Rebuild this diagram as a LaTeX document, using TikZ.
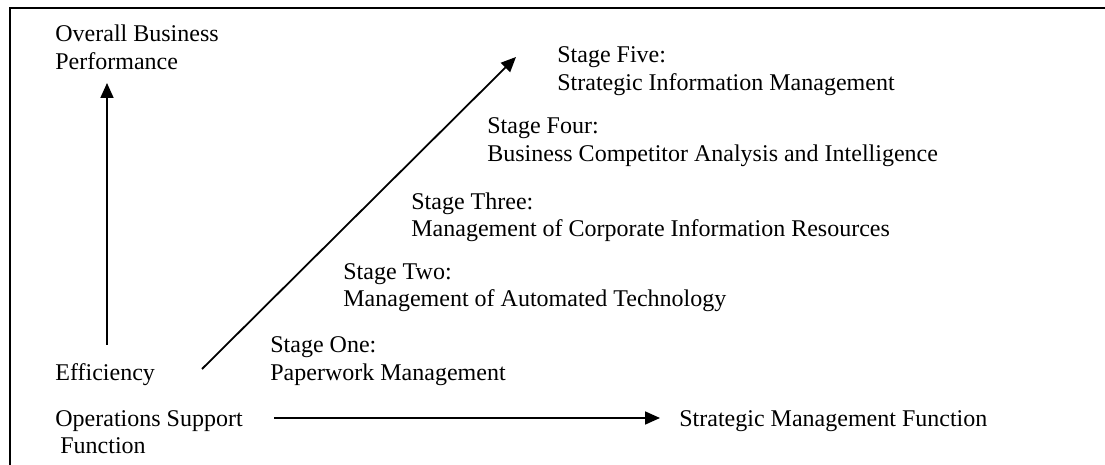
\documentclass[tikz,border=0pt]{standalone}
\usepackage{fontspec}
\setmainfont{Liberation Serif}
\usetikzlibrary{arrows.meta}

\tikzset{
  label text/.style={anchor=base west,inner sep=0pt,align=left,font=\fontsize{12}{13.8}\selectfont},
  axis arrow/.style={line width=0.9pt,-{Triangle[length=7.5pt,width=6.5pt]}}
}

\begin{document}
\begin{tikzpicture}[x=0.5pt,y=-0.5pt]
\useasboundingbox (0,0) rectangle (1105,465);
%% frame
\draw[line width=1.1pt] (10,465) -- (10,8) -- (1105,8);

%% axis labels (base = baseline of the last line)
\node[label text] (perf) at (55,69.6) {Overall Business\\Performance};
\node[label text] (effic) at (55,380) {Efficiency};
\node[label text] (ops) at (55,453.6) {Operations Support\\\hspace{2.5pt}Function};
\node[label text] (strat) at (679,426) {Strategic Management Function};

%% stages
\foreach \stage/\text/\coord in {one/{Stage One:\\Paperwork Management}/{270,380},
        two/{Stage Two:\\Management of Automated Technology}/{343,306.6},
        three/{Stage Three:\\Management of Corporate Information Resources}/{411,236.6},
        four/{Stage Four:\\Business Competitor Analysis and Intelligence}/{487,161.6},
        five/{Stage Five:\\Strategic Information Management}/{557,90.6}}
        \node[label text] (stage \stage) at (\coord) {\text};

%% arrows
\coordinate (perf end) at (107,83);
\coordinate (effic start) at (107,345);
\coordinate (diag start) at (202,369);
\coordinate (diag end) at (516,57);
\coordinate (ops start) at (274,418);
\coordinate (strat end) at (660,418);
\draw[axis arrow] (effic start) -- (perf end);
\draw[axis arrow] (diag start) -- (diag end);
\draw[axis arrow] (ops start) -- (strat end);
\end{tikzpicture}
\end{document}
